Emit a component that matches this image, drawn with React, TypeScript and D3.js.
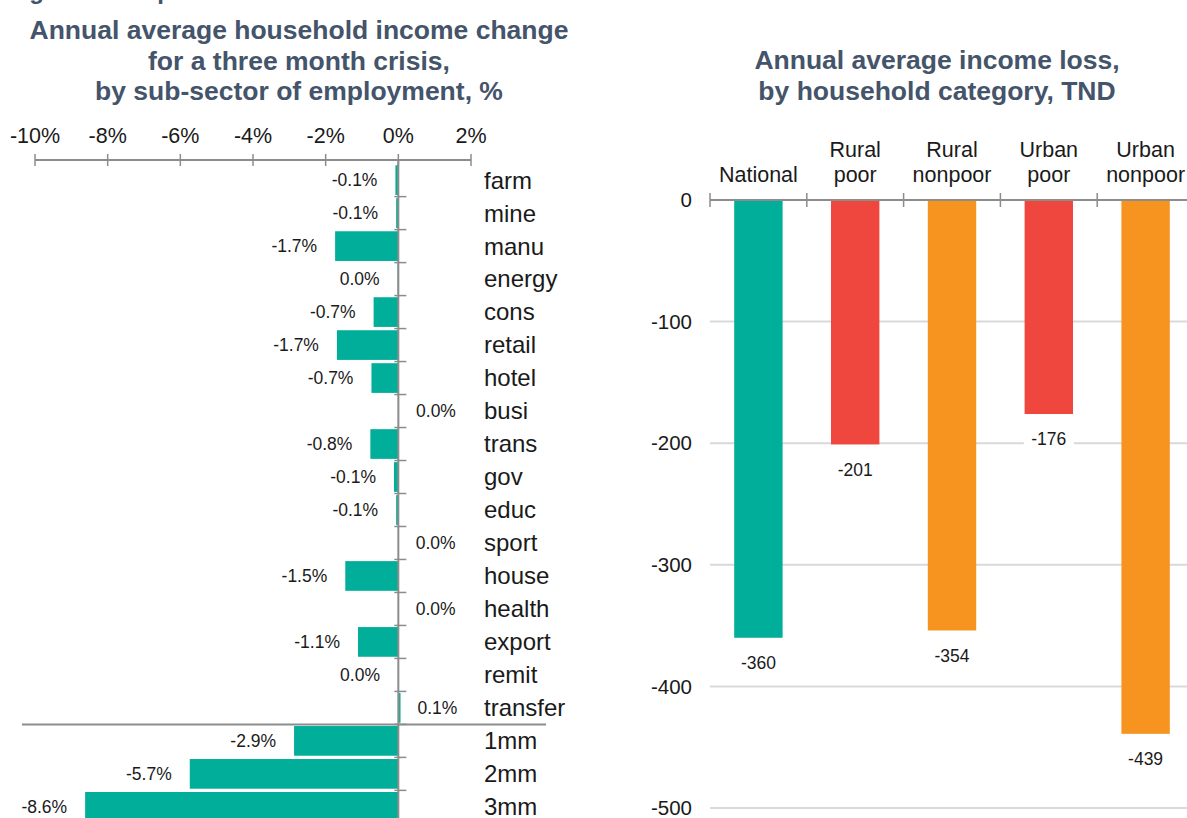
import React, { Component } from "react"
import * as d3 from "d3"

// left panel: change by sub-sector, %
const sectors = ["farm", "mine", "manu", "energy", "cons", "retail", "hotel", "busi", "trans", "gov", "educ", "sport", "house", "health", "export", "remit", "transfer", "1mm", "2mm", "3mm"]
const sectorChange = [-0.08, -0.06, -1.74, -0.02, -0.68, -1.69, -0.74, 0.02, -0.77, -0.12, -0.06, 0.01, -1.46, 0.01, -1.11, -0.01, 0.06, -2.87, -5.74, -8.62]
const pctTicks = [-10, -8, -6, -4, -2, 0, 2]

// right panel: income loss by household category, TND
const groups = ["National", "Rural poor", "Rural nonpoor", "Urban poor", "Urban nonpoor"]
const groupLoss = [-360, -201, -354, -176, -439]
const groupColors = ["#00ae9a", "#ef473d", "#f7931f", "#ef473d", "#f7931f"]
const lossTicks = [0, -100, -200, -300, -400, -500]

const FONT = "'Liberation Sans', Arial, sans-serif"
const TITLE = "#44546a"
const AXIS = "#8c8c8c"
const INK = "#1a1a1a"

class App extends Component {
  viz: SVGSVGElement | null = null

  componentDidMount() {
    const svg = d3.select(this.viz)
    svg.selectAll("*").remove()

    // cut-off figure caption at the very top
    svg.append("text")
      .attr("x", 8).attr("y", -1)
      .attr("font-family", FONT).attr("font-weight", "bold").attr("font-size", 24)
      .attr("fill", TITLE)
      .text("Figure 13: Impacts")

    // ---------- left chart ----------
    const left = svg.append("g")
    const leftTitle = ["Annual average household income change", "for a three month crisis,", "by sub-sector of employment, %"]
    left.selectAll("text.title").data(leftTitle).enter().append("text")
      .attr("class", "title")
      .attr("x", 299).attr("y", (d, i) => 39 + i * 30.5)
      .attr("text-anchor", "middle")
      .attr("font-family", FONT).attr("font-weight", "bold").attr("font-size", 26.5)
      .attr("fill", TITLE)
      .text(d => d)

    const x = d3.scaleLinear().domain([-10, 2]).range([35, 471])
    const y = d3.scaleBand().domain(sectors).range([162, 825]).padding(0.1)
    const step = y.step()

    // bars
    left.selectAll("rect.bar").data(sectorChange).enter().append("rect")
      .attr("class", "bar")
      .attr("x", d => x(Math.min(0, d)))
      .attr("y", (d, i) => y(sectors[i]) as number)
      .attr("width", d => Math.abs(x(d) - x(0)))
      .attr("height", y.bandwidth())
      .attr("fill", "#00ae9a")

    // top axis
    left.append("line")
      .attr("x1", x(-10)).attr("x2", x(2)).attr("y1", 160).attr("y2", 160)
      .attr("stroke", AXIS).attr("stroke-width", 2)
    left.selectAll("line.xtick").data(pctTicks).enter().append("line")
      .attr("class", "xtick")
      .attr("x1", d => x(d)).attr("x2", d => x(d)).attr("y1", 154).attr("y2", 166)
      .attr("stroke", AXIS).attr("stroke-width", 1.5)
    left.selectAll("text.xlab").data(pctTicks).enter().append("text")
      .attr("class", "xlab")
      .attr("x", d => x(d)).attr("y", 143)
      .attr("text-anchor", "middle")
      .attr("font-family", FONT).attr("font-size", 21.5).attr("fill", INK)
      .text(d => d + "%")

    // vertical zero axis with category ticks
    left.append("line")
      .attr("x1", x(0)).attr("x2", x(0)).attr("y1", 160).attr("y2", 818)
      .attr("stroke", AXIS).attr("stroke-width", 2)
    left.selectAll("line.ytick").data(sectors.slice(1)).enter().append("line")
      .attr("class", "ytick")
      .attr("x1", x(0) - 4).attr("x2", x(0) + 8)
      .attr("y1", d => (y(d) as number) - (step - y.bandwidth()) / 2)
      .attr("y2", d => (y(d) as number) - (step - y.bandwidth()) / 2)
      .attr("stroke", AXIS).attr("stroke-width", 1.5)

    // separator between sectors and crisis lengths
    const sepY = (y("1mm") as number) - (step - y.bandwidth()) / 2
    left.append("line")
      .attr("x1", 22).attr("x2", 546).attr("y1", sepY).attr("y2", sepY)
      .attr("stroke", AXIS).attr("stroke-width", 2)

    // category names
    left.selectAll("text.cat").data(sectors).enter().append("text")
      .attr("class", "cat")
      .attr("x", 484)
      .attr("y", d => (y(d) as number) + y.bandwidth() / 2)
      .attr("dy", "0.35em")
      .attr("font-family", FONT).attr("font-size", 24).attr("fill", INK)
      .text(d => d)

    // value labels
    const fmt = (v: number) => (Math.abs(v) < 0.05 ? "0.0" : v.toFixed(1)) + "%"
    left.selectAll("text.val").data(sectorChange).enter().append("text")
      .attr("class", "val")
      .attr("x", d => (d < 0 ? x(d) - 18 : x(d) + 17))
      .attr("y", (d, i) => (y(sectors[i]) as number) + y.bandwidth() / 2)
      .attr("dy", "0.35em")
      .attr("text-anchor", d => (d < 0 ? "end" : "start"))
      .attr("font-family", FONT).attr("font-size", 17.5).attr("fill", INK)
      .text(d => fmt(d))

    // ---------- right chart ----------
    const right = svg.append("g")
    const rightTitle = ["Annual average income loss,", "by household category, TND"]
    right.selectAll("text.title").data(rightTitle).enter().append("text")
      .attr("class", "title")
      .attr("x", 937).attr("y", (d, i) => 69 + i * 30.5)
      .attr("text-anchor", "middle")
      .attr("font-family", FONT).attr("font-weight", "bold").attr("font-size", 26.5)
      .attr("fill", TITLE)
      .text(d => d)

    const xb = d3.scaleBand().domain(groups).range([710, 1194]).paddingInner(0.5).paddingOuter(0.25)
    const yb = d3.scaleLinear().domain([-500, 0]).range([808, 200])
    const gap = (xb.step() - xb.bandwidth()) / 2

    // gridlines
    right.selectAll("line.grid").data(lossTicks.slice(1)).enter().append("line")
      .attr("class", "grid")
      .attr("x1", 710).attr("x2", 1187)
      .attr("y1", d => yb(d)).attr("y2", d => yb(d))
      .attr("stroke", "#d9d9d9").attr("stroke-width", 2)

    right.selectAll("text.ylab").data(lossTicks).enter().append("text")
      .attr("class", "ylab")
      .attr("x", 692).attr("y", d => yb(d))
      .attr("dy", "0.35em")
      .attr("text-anchor", "end")
      .attr("font-family", FONT).attr("font-size", 20.5).attr("fill", INK)
      .text(d => d)

    // bars
    right.selectAll("rect.bar").data(groupLoss).enter().append("rect")
      .attr("class", "bar")
      .attr("x", (d, i) => xb(groups[i]) as number)
      .attr("y", yb(0))
      .attr("width", xb.bandwidth())
      .attr("height", d => yb(d) - yb(0))
      .attr("fill", (d, i) => groupColors[i])

    // zero axis with category ticks
    right.append("line")
      .attr("x1", 710).attr("x2", 1187).attr("y1", yb(0)).attr("y2", yb(0))
      .attr("stroke", AXIS).attr("stroke-width", 2)
    right.selectAll("line.xtick").data(groups).enter().append("line")
      .attr("class", "xtick")
      .attr("x1", d => (xb(d) as number) - gap)
      .attr("x2", d => (xb(d) as number) - gap)
      .attr("y1", yb(0) - 7).attr("y2", yb(0) + 7)
      .attr("stroke", AXIS).attr("stroke-width", 1.5)

    // category names (wrapped on two lines)
    groups.forEach(g => {
      const words = g.split(" ")
      const cx = (xb(g) as number) + xb.bandwidth() / 2
      words.forEach((w, j) => {
        right.append("text")
          .attr("x", cx)
          .attr("y", 174 - (words.length - 1 - j) * 25)
          .attr("dy", "0.35em")
          .attr("text-anchor", "middle")
          .attr("font-family", FONT).attr("font-size", 21.5).attr("fill", INK)
          .text(w)
      })
    })

    // value labels with white backing
    groupLoss.forEach((v, i) => {
      const cx = (xb(groups[i]) as number) + xb.bandwidth() / 2
      const cy = yb(v) + 25
      right.append("rect")
        .attr("x", cx - 25).attr("y", cy - 12).attr("width", 50).attr("height", 24)
        .attr("fill", "#ffffff")
      right.append("text")
        .attr("x", cx).attr("y", cy)
        .attr("dy", "0.35em")
        .attr("text-anchor", "middle")
        .attr("font-family", FONT).attr("font-size", 17.5).attr("fill", INK)
        .text(v)
    })
  }

  render() {
    return (
      <svg
        ref={viz => { this.viz = viz }}
        width={1187}
        height={818}
        style={{ position: "absolute", left: 0, top: 0, background: "#ffffff" }}
      />
    )
  }
}

export default App
